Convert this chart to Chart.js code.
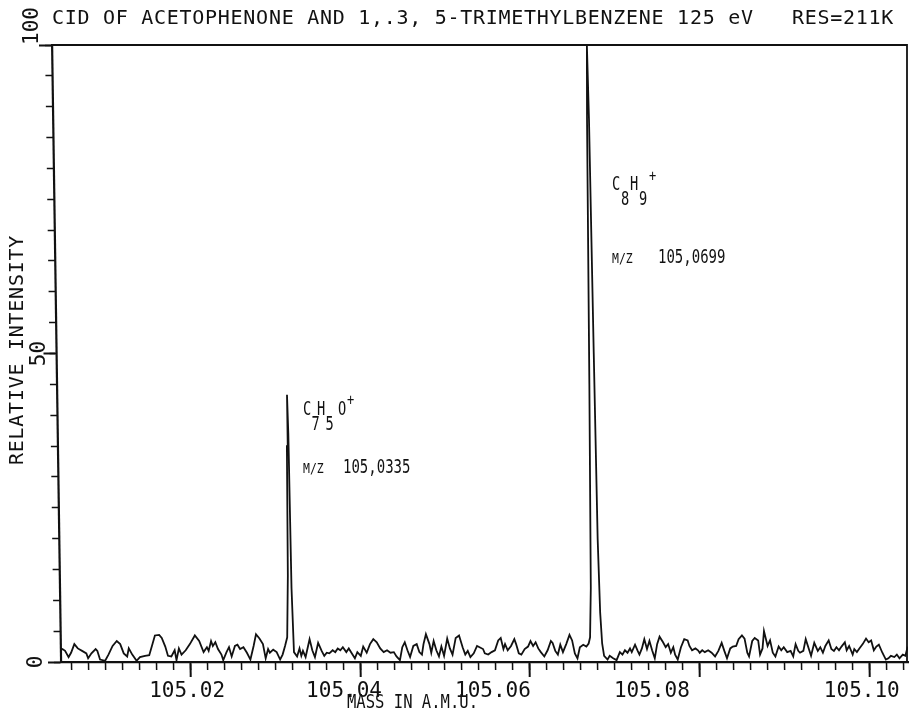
<!DOCTYPE html>
<html>
<head>
<meta charset="utf-8">
<title>CID of acetophenone and 1,3,5-trimethylbenzene</title>
<script src="https://cdn.jsdelivr.net/npm/chart.js@4.4.1/dist/chart.umd.min.js"></script>
<style>
  html, body { margin: 0; padding: 0; background: #fff; }
  #spectrum { display: block; }
</style>
</head>
<body>
<canvas id="spectrum" width="909" height="710"></canvas>
<script>
// Mass window and axis ticks
const massMin = 105.0048;
const massMax = 105.1045;
const xMajorTicks = [105.02, 105.04, 105.06, 105.08, 105.10];
const xTickLabels = ['105.02', '105.04', '105.06', '105.08', '105.10'];
const yMajorTicks = [0, 50, 100];
const yTickLabels = ['0', '50', '100'];

const titleText = 'CID OF ACETOPHENONE AND 1,.3, 5-TRIMETHYLBENZENE 125 eV   RES=211K';
const xAxisTitle = 'MASS IN A.M.U.';
const yAxisTitle = 'RELATIVE INTENSITY';

// Spectrum, [mass (a.m.u.), relative intensity]
const noiseLow = [
  [105.0047,1.8],[105.0050,2.1],[105.0053,1.8],[105.0057,0.8],[105.0060,1.5],[105.0064,2.9],[105.0068,2.2],[105.0073,1.8],[105.0078,1.4],[105.0080,0.6],
  [105.0084,1.4],[105.0089,2.1],[105.0091,1.8],[105.0094,0.4],[105.0100,0.2],[105.0104,1.2],[105.0109,2.6],[105.0114,3.4],[105.0118,2.9],[105.0122,1.4],
  [105.0126,0.9],[105.0128,2.2],[105.0132,1.2],[105.0137,0.2],[105.0141,0.8],[105.0147,1.0],[105.0152,1.1],[105.0156,2.9],[105.0159,4.3],[105.0164,4.4],
  [105.0167,3.9],[105.0171,2.5],[105.0174,1.0],[105.0178,0.9],[105.0182,1.9],[105.0184,0.3],[105.0187,2.2],[105.0190,1.2],[105.0195,1.9],[105.0200,2.9],
  [105.0206,4.3],[105.0211,3.4],[105.0216,1.6],[105.0220,2.4],[105.0222,1.8],[105.0225,3.4],[105.0227,2.6],[105.0230,3.2],[105.0233,2.1],[105.0237,1.2],
  [105.0239,0.3],[105.0243,1.6],[105.0246,2.4],[105.0249,0.9],[105.0253,2.6],[105.0256,2.8],[105.0259,2.1],[105.0263,2.4],[105.0267,1.5],[105.0271,0.4],
  [105.0275,2.6],[105.0278,4.5],[105.0282,3.8],[105.0286,2.9],[105.0289,0.6],[105.0292,2.1],[105.0294,1.5],[105.0298,2.0],[105.0302,1.6],[105.0306,0.4],
  [105.0309,1.2],[105.0312,2.6]
];

const peakC7H5O = [
  [105.03147,4],[105.03165,14],[105.03176,35],[105.03186,43.3],[105.03195,37],[105.03206,12],[105.03224,1.6]
];

const noiseMid = [
  [105.0326,0.9],[105.0329,2.2],[105.0331,1.0],[105.0333,1.8],[105.0336,0.8],[105.0341,3.7],[105.0344,1.9],[105.0347,0.8],[105.0351,3.1],[105.0355,1.8],
  [105.0358,1.0],[105.0361,1.5],[105.0364,1.4],[105.0368,1.9],[105.0371,1.6],[105.0374,2.2],[105.0377,1.9],[105.0380,2.4],[105.0384,1.6],[105.0387,2.2],
  [105.0390,1.5],[105.0394,0.6],[105.0397,1.6],[105.0401,1.0],[105.0404,2.5],[105.0408,1.5],[105.0412,2.9],[105.0416,3.7],[105.0420,3.2],[105.0424,2.2],
  [105.0428,1.6],[105.0432,1.9],[105.0436,1.5],[105.0440,1.6],[105.0443,0.9],[105.0447,0.3],[105.0450,2.4],[105.0453,3.2],[105.0456,1.9],[105.0459,0.8],
  [105.0463,2.6],[105.0467,2.9],[105.0470,1.6],[105.0473,1.2],[105.0475,2.9],[105.0478,4.5],[105.0482,2.9],[105.0484,1.5],[105.0487,3.4],[105.0490,1.9],
  [105.0493,0.9],[105.0496,2.5],[105.0499,1.0],[105.0503,3.8],[105.0506,2.2],[105.0509,1.2],[105.0513,3.9],[105.0517,4.3],[105.0521,2.4],[105.0524,1.2],
  [105.0527,1.8],[105.0530,0.8],[105.0534,1.4],[105.0538,2.6],[105.0541,2.4],[105.0545,2.1],[105.0547,1.4],[105.0551,1.2],[105.0555,1.6],[105.0559,1.9],
  [105.0563,3.5],[105.0566,3.9],[105.0569,2.1],[105.0571,2.9],[105.0574,1.9],[105.0578,2.6],[105.0582,3.7],[105.0584,2.9],[105.0587,1.4],[105.0590,1.2],
  [105.0594,2.1],[105.0598,2.5],[105.0601,3.4],[105.0604,2.6],[105.0607,3.2],[105.0610,2.2],[105.0613,1.6],[105.0617,0.9],[105.0621,1.9],[105.0625,3.4],
  [105.0627,3.1],[105.0630,1.8],[105.0633,1.2],[105.0636,2.8],[105.0639,1.6],[105.0643,2.9],[105.0647,4.4],[105.0650,3.5],[105.0653,1.4],[105.0656,0.6],
  [105.0659,2.4],[105.0663,2.8]
];

const peakC8H9 = [
  [105.06667,2.5],[105.06694,3.0],[105.06712,4],[105.06729,12],[105.06747,45],[105.06765,88],[105.06776,100],
  [105.06788,88],[105.06804,50],[105.06818,20],[105.06835,8],[105.06853,3],[105.06874,1.0],[105.06914,0.4]
];

const noiseHigh = [
  [105.0694,1.0],[105.0698,0.6],[105.0702,0.3],[105.0706,1.6],[105.0709,1.2],[105.0712,1.9],[105.0715,1.5],[105.0718,2.2],[105.0720,1.6],[105.0724,2.8],
  [105.0727,1.8],[105.0729,1.2],[105.0732,2.2],[105.0735,3.7],[105.0738,2.1],[105.0741,3.4],[105.0744,1.9],[105.0747,0.6],[105.0750,2.9],[105.0753,4.1],
  [105.0757,3.2],[105.0760,2.4],[105.0763,2.9],[105.0766,1.5],[105.0769,2.4],[105.0771,1.2],[105.0774,0.4],[105.0778,2.4],[105.0782,3.7],[105.0786,3.5],
  [105.0788,2.6],[105.0791,1.9],[105.0795,2.2],[105.0798,1.9],[105.0800,1.5],[105.0803,1.9],[105.0806,1.6],[105.0810,1.9],[105.0814,1.5],[105.0818,0.9],
  [105.0822,1.8],[105.0826,3.1],[105.0829,1.8],[105.0832,0.6],[105.0836,2.2],[105.0839,2.5],[105.0843,2.6],[105.0846,3.7],[105.0850,4.3],[105.0853,3.8],
  [105.0856,1.5],[105.0858,0.9],[105.0862,3.4],[105.0865,3.9],[105.0869,3.5],[105.0871,1.2],[105.0874,2.2],[105.0876,5.0],[105.0880,2.6],[105.0883,3.5],
  [105.0886,1.5],[105.0889,0.9],[105.0893,2.5],[105.0896,1.9],[105.0899,2.4],[105.0903,1.6],[105.0907,1.8],[105.0910,0.9],[105.0913,2.9],[105.0916,1.8],
  [105.0918,1.5],[105.0922,1.8],[105.0925,3.7],[105.0929,1.9],[105.0931,1.0],[105.0935,3.1],[105.0939,1.8],[105.0942,2.4],[105.0945,1.5],[105.0948,2.6],
  [105.0952,3.5],[105.0955,2.1],[105.0958,1.8],[105.0961,2.4],[105.0964,1.9],[105.0967,2.5],[105.0971,3.2],[105.0973,1.9],[105.0976,2.6],[105.0980,1.2],
  [105.0982,2.1],[105.0985,1.6],[105.0988,2.2],[105.0992,2.9],[105.0996,3.8],[105.0999,3.2],[105.1002,3.5],[105.1005,1.9],[105.1008,2.5],[105.1011,2.8],
  [105.1015,1.5],[105.1019,0.4],[105.1022,0.6],[105.1025,1.0],[105.1029,0.8],[105.1032,1.2],[105.1035,0.6],[105.1039,1.2],[105.1042,1.0],[105.1045,2.5]
];

// Peak annotations (text only)
const peakNames = [
  { atoms: ['C', 'H', 'O'], counts: ['7', '5', ''], mz: '105,0335' },
  { atoms: ['C', 'H'], counts: ['8', '9'], mz: '105,0699' }
];

// --- layout / look ---
const FONT = '"DejaVu Sans Mono", "Liberation Mono", monospace';
const INK = '#111';
const penSlant = 9 / 617;              // the recorder trace leans slightly to the left
const xLabelShift = [-3, -16, -37, -48, -8];
const yLabelX = [37, 40, 33];          // for 0, 50, 100
const yLabelAlign = ['center', 'center', 'left'];
const annoPos = [
  { x: 303, y: 415, subDy: 15, step: [0, 14, 35], subDx: 8.5, plus: [347, 405], mzY: 473, mzX: 343 },
  { x: 612, y: 190, subDy: 15, step: [0, 18], subDx: 9, plus: [649, 181], mzY: 263, mzX: 658 }
];

const spectrum = [].concat(noiseLow, peakC7H5O, noiseMid, peakC8H9, noiseHigh)
  .map(p => ({ x: p[0], y: p[1] }));

function drawText(ctx, text, x, y, o) {
  ctx.save();
  ctx.translate(x, y);
  if (o.rotate) ctx.rotate(o.rotate);
  ctx.font = `${o.size}px ${FONT}`;
  ctx.textAlign = o.align || 'left';
  ctx.textBaseline = o.baseline || 'alphabetic';
  ctx.fillStyle = INK;
  if (o.spreadTo) {
    ctx.letterSpacing = '0px';
    const w = ctx.measureText(text).width;
    ctx.letterSpacing = ((o.spreadTo - w) / text.length) + 'px';
  }
  if (o.squeezeTo) {
    const w = ctx.measureText(text).width;
    ctx.scale(o.squeezeTo / w, 1);
  } else if (o.sx) {
    ctx.scale(o.sx, 1);
  }
  ctx.fillText(text, 0, 0);
  ctx.restore();
}

// lean the plot area like the original pen recording
const slantPlugin = {
  id: 'slant',
  beforeDraw(chart) {
    const ctx = chart.ctx;
    ctx.save();
    ctx.transform(1, 0, penSlant, 1, -penSlant * chart.chartArea.bottom, 0);
  },
  afterDraw(chart) {
    chart.ctx.restore();
  }
};

const textPlugin = {
  id: 'plotText',
  afterDraw(chart) {
    const ctx = chart.ctx;
    const area = chart.chartArea;
    const xs = chart.scales.x;
    const ys = chart.scales.y;

    // frame top and right side
    ctx.save();
    ctx.strokeStyle = INK;
    ctx.lineWidth = 1.8;
    ctx.beginPath();
    ctx.moveTo(area.left - penSlant * (area.bottom - area.top), area.top);
    ctx.lineTo(area.right - 1, area.top);
    ctx.lineTo(area.right - 1, area.bottom);
    ctx.stroke();
    ctx.restore();

    drawText(ctx, titleText, 52, 24, { size: 20, spreadTo: 842 });

    // x tick labels and title
    xMajorTicks.forEach((v, i) => {
      drawText(ctx, xTickLabels[i], xs.getPixelForValue(v) + xLabelShift[i], 697, { size: 21, align: 'center' });
    });
    drawText(ctx, xAxisTitle, 347, 708, { size: 19, squeezeTo: 131 });

    // y tick labels, written sideways
    yMajorTicks.forEach((v, i) => {
      drawText(ctx, yTickLabels[i], yLabelX[i], ys.getPixelForValue(v), {
        size: 21, rotate: -Math.PI / 2, align: yLabelAlign[i], baseline: 'middle'
      });
    });
    drawText(ctx, yAxisTitle, 18, 350, { size: 20, rotate: -Math.PI / 2, align: 'center', baseline: 'middle', spreadTo: 230 });

    // peak formulas and m/z values
    peakNames.forEach((pk, i) => {
      const p = annoPos[i];
      pk.atoms.forEach((a, j) => {
        const ax = p.x + p.step[j];
        drawText(ctx, a, ax, p.y, { size: 19, sx: 0.72 });
        if (pk.counts[j]) drawText(ctx, pk.counts[j], ax + p.subDx, p.y + p.subDy, { size: 19, sx: 0.72 });
      });
      drawText(ctx, '+', p.plus[0], p.plus[1], { size: 15, sx: 0.8 });
      drawText(ctx, 'M/Z', p.x, p.mzY, { size: 14, sx: 0.82 });
      drawText(ctx, pk.mz, p.mzX, p.mzY, { size: 20, sx: 0.7 });
    });
  }
};

const axisInk = { color: INK, width: 2.2 };

new Chart(document.getElementById('spectrum'), {
  type: 'line',
  data: {
    datasets: [{
      data: spectrum,
      borderColor: INK,
      borderWidth: 1.8,
      pointRadius: 0,
      tension: 0,
      xAxisID: 'x',
      yAxisID: 'y'
    }]
  },
  options: {
    responsive: false,
    animation: false,
    devicePixelRatio: 1,
    layout: { padding: { top: 45, right: 1, left: 0, bottom: 0 } },
    plugins: { legend: { display: false }, tooltip: { enabled: false }, title: { display: false } },
    scales: {
      x: {
        type: 'linear', position: 'bottom', weight: 1, min: massMin, max: massMax,
        afterFit: s => { s.height = 48; },
        ticks: { display: false, stepSize: 0.02, includeBounds: false },
        grid: { drawOnChartArea: false, tickLength: 15, tickWidth: 2, tickColor: INK },
        border: axisInk
      },
      xMinor: {
        type: 'linear', position: 'bottom', weight: 0, min: massMin, max: massMax,
        afterFit: s => { s.height = 0; },
        ticks: { display: false, stepSize: 0.002, includeBounds: false },
        grid: { drawOnChartArea: false, tickLength: 8, tickWidth: 1.5, tickColor: INK },
        border: { display: false }
      },
      y: {
        type: 'linear', position: 'left', weight: 1, min: 0, max: 100,
        afterFit: s => { s.width = 61; },
        ticks: { display: false, stepSize: 50 },
        grid: { drawOnChartArea: false, tickLength: 13, tickWidth: 2, tickColor: INK },
        border: axisInk
      },
      yMinor: {
        type: 'linear', position: 'left', weight: 0, min: 0, max: 100,
        afterFit: s => { s.width = 0; },
        ticks: { display: false, stepSize: 5 },
        grid: { drawOnChartArea: false, tickLength: 7, tickWidth: 1.5, tickColor: INK },
        border: { display: false }
      }
    }
  },
  plugins: [slantPlugin, textPlugin]
});
</script>
</body>
</html>
